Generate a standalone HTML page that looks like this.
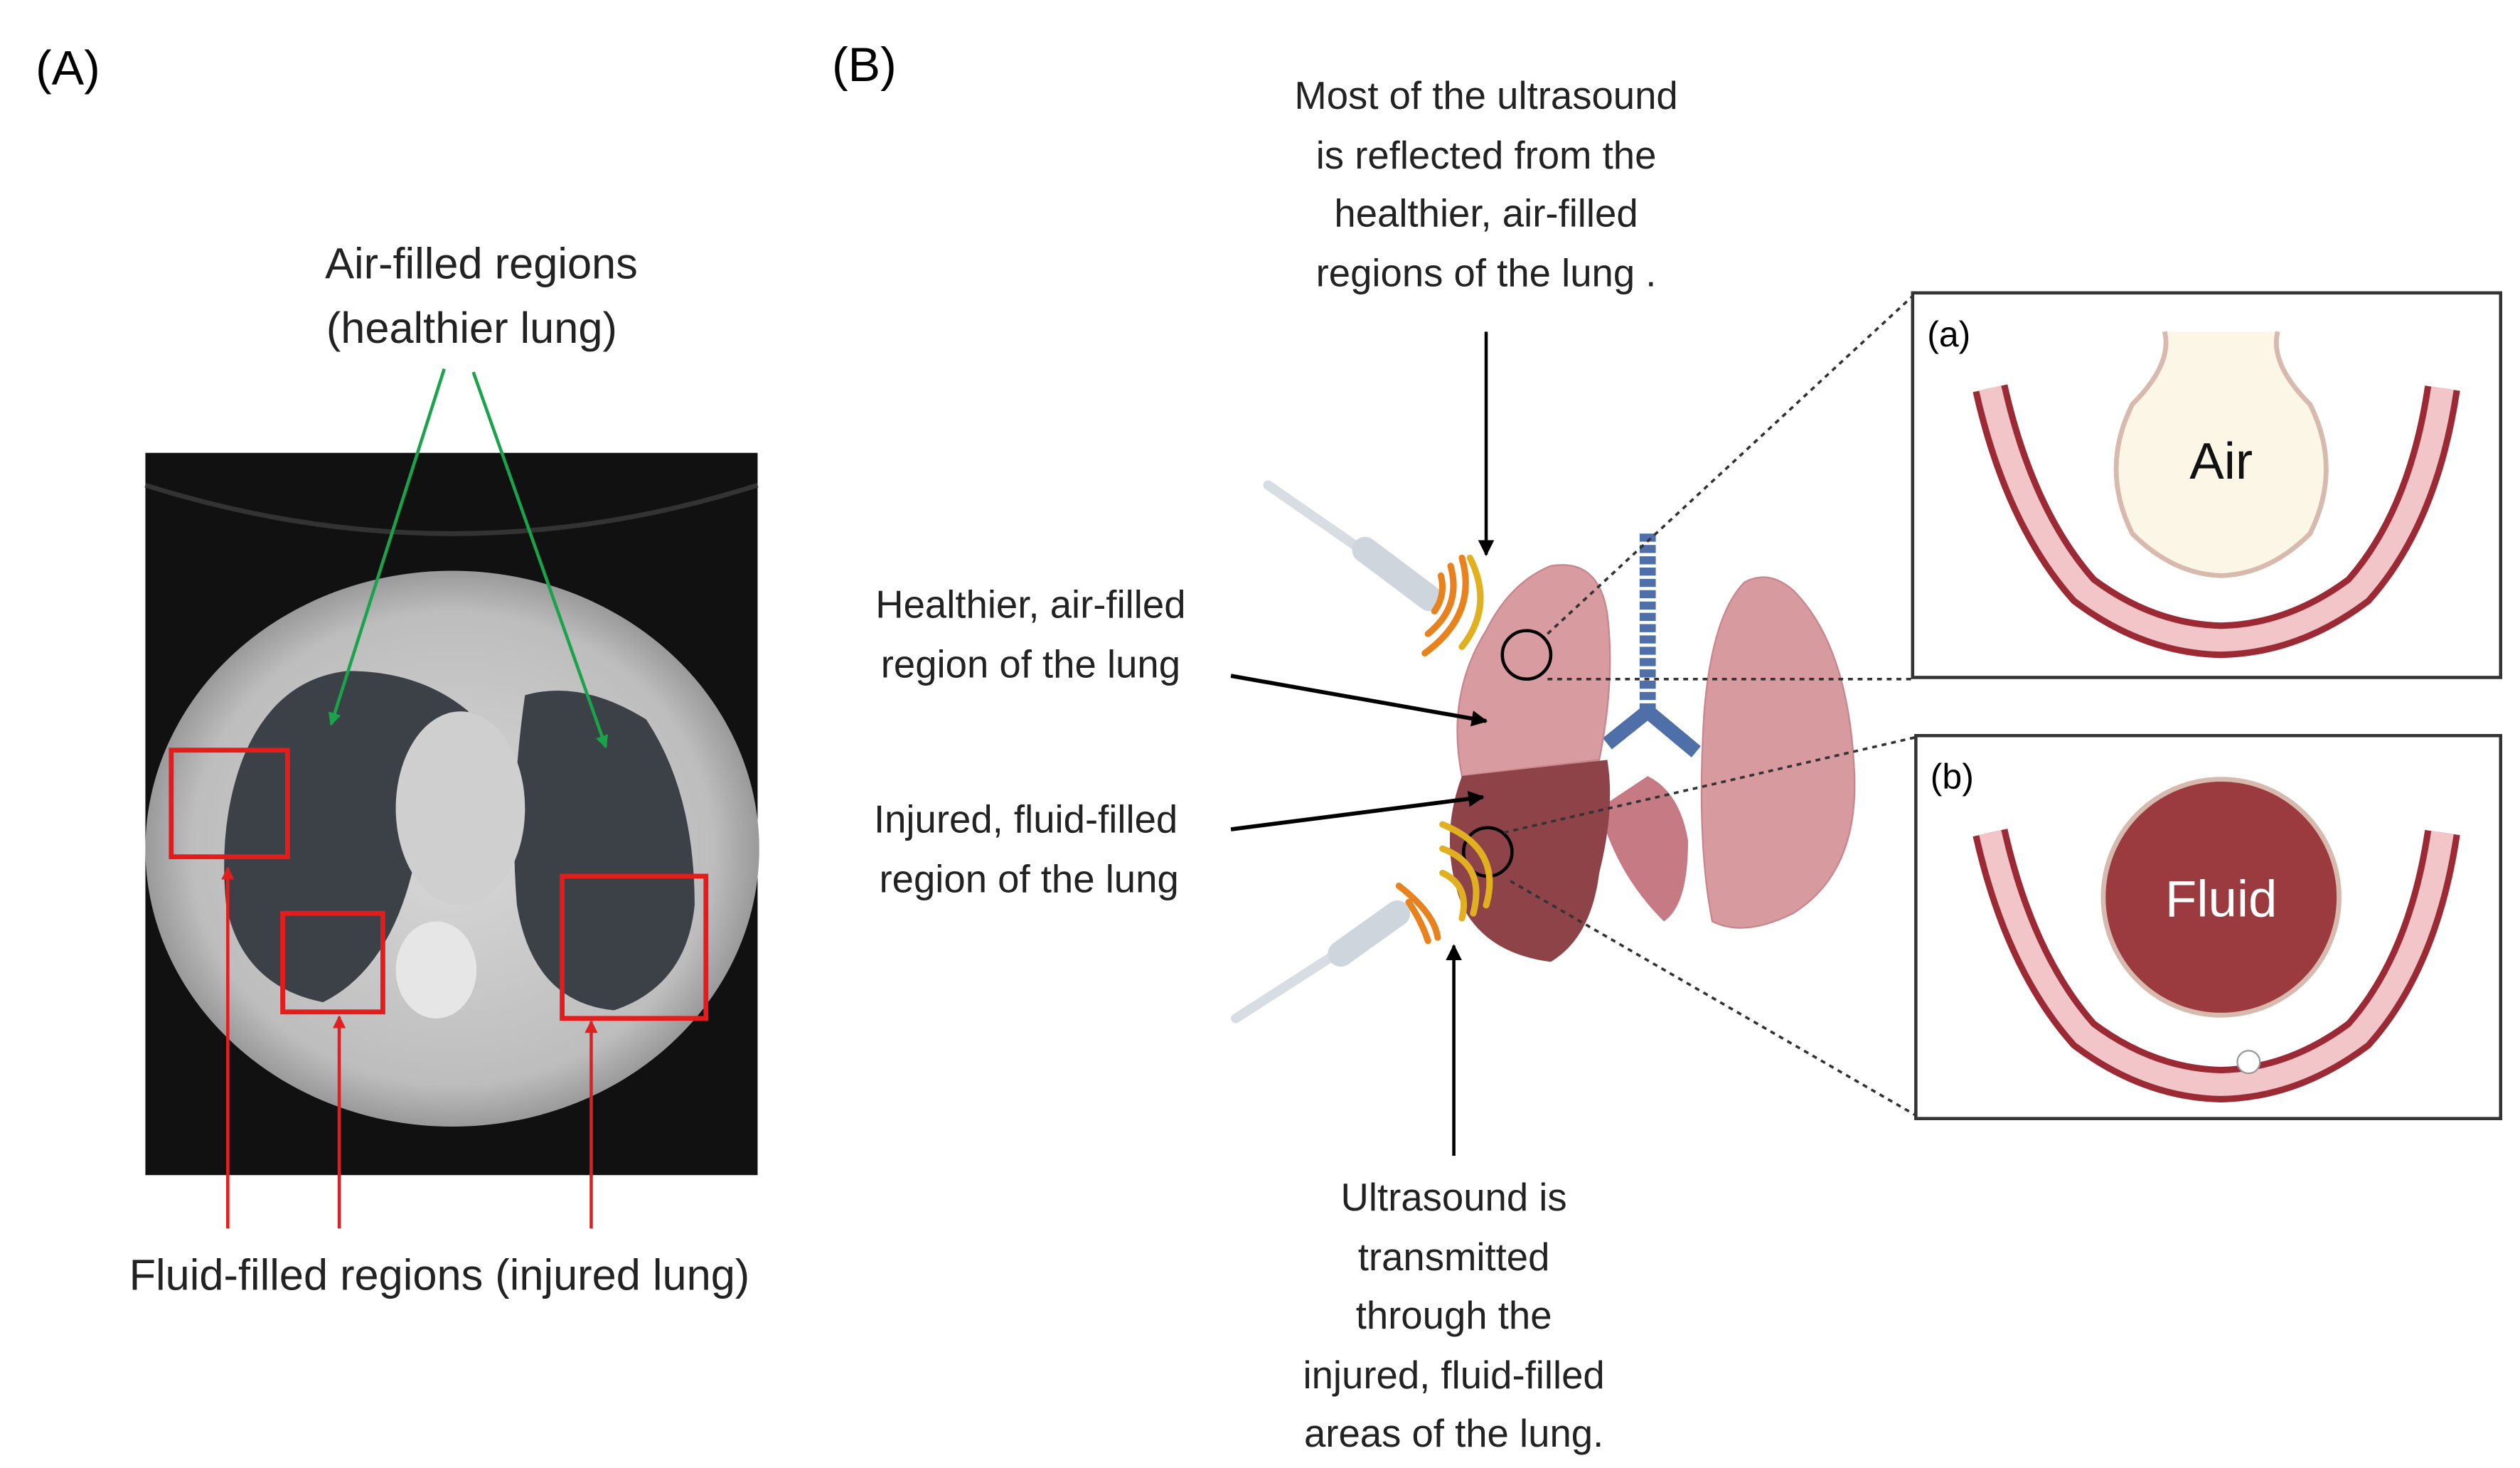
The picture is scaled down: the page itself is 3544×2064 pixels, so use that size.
<!DOCTYPE html>
<html><head><meta charset="utf-8"><style>
html,body{margin:0;padding:0;background:#fff;}
svg{display:block;}
text{font-family:"Liberation Sans",sans-serif;}
</style></head><body>
<svg width="3544" height="2064" viewBox="0 0 1560 908" xmlns="http://www.w3.org/2000/svg">
<defs>
<marker id="ag" markerWidth="8" markerHeight="8" refX="7" refY="4" orient="auto" markerUnits="userSpaceOnUse"><path d="M0,0 L8,4 L0,8 z" fill="#1aa34a"/></marker>
<marker id="ar" markerWidth="8" markerHeight="8" refX="7" refY="4" orient="auto" markerUnits="userSpaceOnUse"><path d="M0,0 L8,4 L0,8 z" fill="#e02020"/></marker>
<marker id="ak" markerWidth="10" markerHeight="10" refX="9" refY="5" orient="auto" markerUnits="userSpaceOnUse"><path d="M0,0 L10,5 L0,10 z" fill="#000"/></marker>
<radialGradient id="body" cx="50%" cy="50%" r="50%"><stop offset="0" stop-color="#d8d8d8"/><stop offset="0.85" stop-color="#bdbdbd"/><stop offset="1" stop-color="#9a9a9a"/></radialGradient>
</defs>
<rect width="1560" height="908" fill="#fff"/>
<text x="22" y="52" font-size="30">(A)</text>
<text x="515" y="50" font-size="30">(B)</text>

<!-- CT -->
<rect x="90" y="280" width="379" height="447" fill="#111"/>
<path d="M90,300 Q280,360 469,300" stroke="#333" stroke-width="3" fill="none"/>
<ellipse cx="280" cy="525" rx="190" ry="172" fill="url(#body)"/>
<path d="M150,470 Q170,420 215,415 Q260,415 290,440 Q270,500 255,540 Q240,600 200,620 Q150,610 140,560 Q135,510 150,470z" fill="#3b4146"/>
<path d="M325,430 Q360,420 400,445 Q430,490 430,560 Q425,610 380,625 Q330,620 320,560 Q315,500 325,430z" fill="#3b4146"/>
<ellipse cx="285" cy="500" rx="40" ry="60" fill="#cfcfcf"/>
<ellipse cx="270" cy="600" rx="25" ry="30" fill="#e6e6e6"/>
<rect x="106" y="464" width="72" height="66" fill="none" stroke="#e51c1c" stroke-width="3"/>
<rect x="175" y="565" width="62" height="61" fill="none" stroke="#e51c1c" stroke-width="3"/>
<rect x="348" y="542" width="89" height="88" fill="none" stroke="#e51c1c" stroke-width="3"/>
<line x1="275" y1="228" x2="205" y2="448" stroke="#1aa34a" stroke-width="2" marker-end="url(#ag)"/>
<line x1="293" y1="230" x2="375" y2="462" stroke="#1aa34a" stroke-width="2" marker-end="url(#ag)"/>
<line x1="141" y1="760" x2="141" y2="537" stroke="#e02020" stroke-width="2" marker-end="url(#ar)"/>
<line x1="210" y1="760" x2="210" y2="629" stroke="#e02020" stroke-width="2" marker-end="url(#ar)"/>
<line x1="366" y1="760" x2="366" y2="632" stroke="#e02020" stroke-width="2" marker-end="url(#ar)"/>
<g font-size="27" text-anchor="middle" fill="#222">
<text x="298" y="172">Air-filled regions</text>
<text x="292" y="212">(healthier lung)</text>
<text x="272" y="798">Fluid-filled regions (injured lung)</text>
</g>

<!-- B texts -->
<g font-size="24" text-anchor="middle" fill="#222">
<text x="920" y="67">Most of the ultrasound</text>
<text x="920" y="104">is reflected from the</text>
<text x="920" y="140">healthier, air-filled</text>
<text x="920" y="177">regions of the lung .</text>
<text x="638" y="382">Healthier, air-filled</text>
<text x="638" y="419">region of the lung</text>
<text x="635" y="515">Injured, fluid-filled</text>
<text x="637" y="552">region of the lung</text>
<text x="900" y="749">Ultrasound is</text>
<text x="900" y="786">transmitted</text>
<text x="900" y="822">through the</text>
<text x="900" y="859">injured, fluid-filled</text>
<text x="900" y="895">areas of the lung.</text>
</g>
<line x1="920" y1="205" x2="920" y2="343" stroke="#000" stroke-width="2" marker-end="url(#ak)"/>
<line x1="900" y1="715" x2="900" y2="585" stroke="#000" stroke-width="2" marker-end="url(#ak)"/>

<!-- lungs -->
<path d="M1020,330 L1020,440" stroke="#4f6fa8" stroke-width="10" stroke-dasharray="5,2"/>
<path d="M1020,440 L995,460 M1020,440 L1050,465" stroke="#4f6fa8" stroke-width="9"/>
<path d="M1080,360 Q1060,380 1055,440 Q1050,520 1060,570 Q1080,580 1110,565 Q1150,540 1148,480 Q1145,400 1110,365 Q1095,352 1080,360z" fill="#d79a9f" stroke="#c8868c"/>
<path d="M990,500 Q1000,540 1030,570 Q1045,560 1045,520 Q1040,490 1020,480z" fill="#c67a84"/>
<path d="M960,350 Q990,345 995,380 Q1000,420 990,470 L905,480 Q895,430 920,390 Q935,360 960,350z" fill="#d89ba0" stroke="#c5868c"/>
<path d="M905,480 L995,470 Q1000,500 990,540 Q985,580 960,595 Q920,590 905,560 Q890,520 905,480z" fill="#8e4348"/>
<circle cx="945" cy="405" r="15" fill="none" stroke="#000" stroke-width="2"/>
<circle cx="921" cy="527" r="15" fill="none" stroke="#000" stroke-width="2"/>
<g stroke-dasharray="3,3" stroke="#333" stroke-width="1.6">
<line x1="958" y1="392" x2="1184" y2="183"/>
<line x1="958" y1="420" x2="1184" y2="420"/>
<line x1="931" y1="515" x2="1186" y2="456"/>
<line x1="935" y1="545" x2="1186" y2="690"/>
</g>
<line x1="762" y1="418" x2="920" y2="446" stroke="#000" stroke-width="2.5" marker-end="url(#ak)"/>
<line x1="762" y1="513" x2="918" y2="493" stroke="#000" stroke-width="2.5" marker-end="url(#ak)"/>

<!-- probes -->
<path d="M785,300 L850,345" stroke="#d8dde3" stroke-width="6" stroke-linecap="round"/>
<path d="M845,340 L885,370" stroke="#cfd5dc" stroke-width="16" stroke-linecap="round"/>
<path d="M765,630 L835,585" stroke="#d8dde3" stroke-width="6" stroke-linecap="round"/>
<path d="M830,590 L865,565" stroke="#cfd5dc" stroke-width="16" stroke-linecap="round"/>
<g fill="none" stroke-width="4" stroke-linecap="round">
<path d="M888,378 Q895,368 892,356" stroke="#e8821e"/>
<path d="M884,392 Q905,375 898,350" stroke="#e8821e"/>
<path d="M882,404 Q915,380 905,345" stroke="#e8821e"/>
<path d="M910,345 Q925,375 905,400" stroke="#e0b020"/>
<path d="M872,558 Q880,570 884,582" stroke="#e8821e"/>
<path d="M866,548 Q888,565 890,580" stroke="#e8821e"/>
<path d="M893,510 Q930,525 920,560" stroke="#e0b020"/>
<path d="M893,525 Q920,535 912,565" stroke="#e0b020"/>
<path d="M893,540 Q910,548 905,568" stroke="#e0b020"/>
</g>

<!-- box a -->
<rect x="1184" y="181" width="364" height="238" fill="#fff" stroke="#333" stroke-width="2"/>
<text x="1193" y="214" font-size="22">(a)</text>
<path d="M1232,240 Q1250,320 1290,365 Q1330,395 1375,396 Q1420,395 1460,365 Q1500,320 1512,240" fill="none" stroke="#9c2a35" stroke-width="22"/>
<path d="M1232,240 Q1250,320 1290,365 Q1330,395 1375,396 Q1420,395 1460,365 Q1500,320 1512,240" fill="none" stroke="#f2c6c8" stroke-width="14"/>
<path d="M1340,205 Q1345,225 1320,250 Q1300,290 1320,330 Q1345,355 1375,356 Q1405,355 1430,330 Q1450,290 1430,250 Q1405,225 1410,205" fill="#fbf6e6" stroke="#d8b9ae" stroke-width="3"/>
<text x="1375" y="296" font-size="32" text-anchor="middle" fill="#111">Air</text>

<!-- box b -->
<rect x="1186" y="455" width="362" height="237" fill="#fff" stroke="#333" stroke-width="2"/>
<text x="1195" y="488" font-size="22">(b)</text>
<path d="M1232,515 Q1250,595 1290,640 Q1330,670 1375,671 Q1420,670 1460,640 Q1500,595 1512,515" fill="none" stroke="#9c2a35" stroke-width="22"/>
<path d="M1232,515 Q1250,595 1290,640 Q1330,670 1375,671 Q1420,670 1460,640 Q1500,595 1512,515" fill="none" stroke="#f2c6c8" stroke-width="14"/>
<circle cx="1375" cy="555" r="73" fill="#9b3b3f" stroke="#d8b9ae" stroke-width="3"/>
<circle cx="1392" cy="657" r="7" fill="#fff" stroke="#999"/>
<text x="1375" y="567" font-size="32" text-anchor="middle" fill="#fff">Fluid</text>
</svg>
</body></html>
